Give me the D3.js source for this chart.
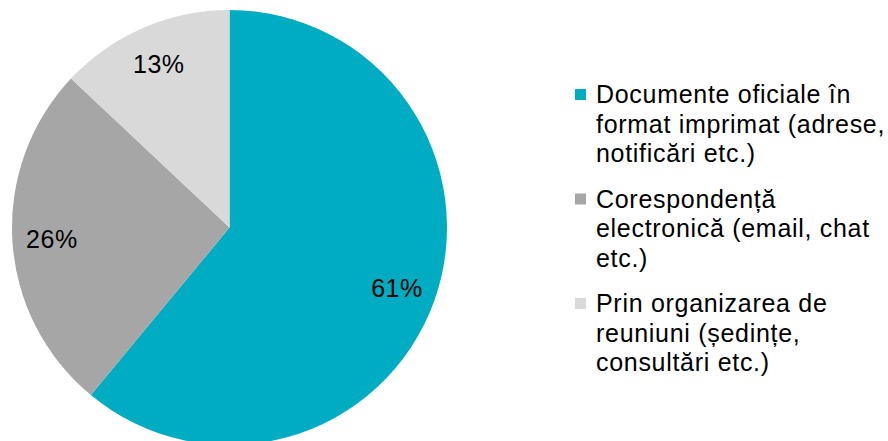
<!DOCTYPE html>
<html>
<head>
<meta charset="utf-8">
<script src="https://cdn.jsdelivr.net/npm/d3@7"></script>
<style>
  html, body { margin: 0; padding: 0; background: #ffffff; }
  svg { display: block; }
</style>
</head>
<body>
<svg id="chart" width="888" height="441"></svg>
<script>
// Data
const categories = [
  ["Documente oficiale în", "format imprimat (adrese,", "notificări etc.)"],
  ["Corespondență", "electronică (email, chat", "etc.)"],
  ["Prin organizarea de", "reuniuni (ședințe,", "consultări etc.)"]
];
const values = [61, 26, 13];
const labels = ["61%", "26%", "13%"];
const colors = ["#00ACC1", "#A6A6A6", "#D9D9D9"];

const svg = d3.select("#chart");
const font = "Arial, 'Liberation Sans', sans-serif";

const cx = 229.5, cy = 227.5, r = 217.5;

const pie = d3.pie().sort(null).value(d => d)(values);
const arc = d3.arc().innerRadius(0).outerRadius(r);
const labelArc = d3.arc().innerRadius(178).outerRadius(178);

const g = svg.append("g").attr("transform", `translate(${cx},${cy})`);

g.selectAll("path.slice")
  .data(pie)
  .join("path")
  .attr("class", "slice")
  .attr("d", arc)
  .attr("fill", (d, i) => colors[i]);

g.selectAll("text.lbl")
  .data(pie)
  .join("text")
  .attr("class", "lbl")
  .attr("transform", d => `translate(${labelArc.centroid(d)})`)
  .attr("text-anchor", "middle")
  .attr("dy", "0.36em")
  .attr("font-family", font)
  .attr("font-size", 25)
  .attr("letter-spacing", 0.5)
  .attr("fill", "#000")
  .text((d, i) => labels[i]);

// Legend
const legend = svg.append("g").attr("transform", "translate(575,0)");
const firstBaseline = 103, lineH = 29.5, groupH = 104.5;

categories.forEach((lines, i) => {
  const base = firstBaseline + i * groupH;
  legend.append("rect")
    .attr("x", 0)
    .attr("y", base - 14)
    .attr("width", 11)
    .attr("height", 11)
    .attr("fill", colors[i]);
  const t = legend.append("text")
    .attr("font-family", font)
    .attr("font-size", 25)
    .attr("letter-spacing", 0.7)
    .attr("fill", "#000");
  lines.forEach((ln, j) => {
    t.append("tspan")
      .attr("x", 21)
      .attr("y", base + j * lineH)
      .text(ln);
  });
});
</script>
</body>
</html>
